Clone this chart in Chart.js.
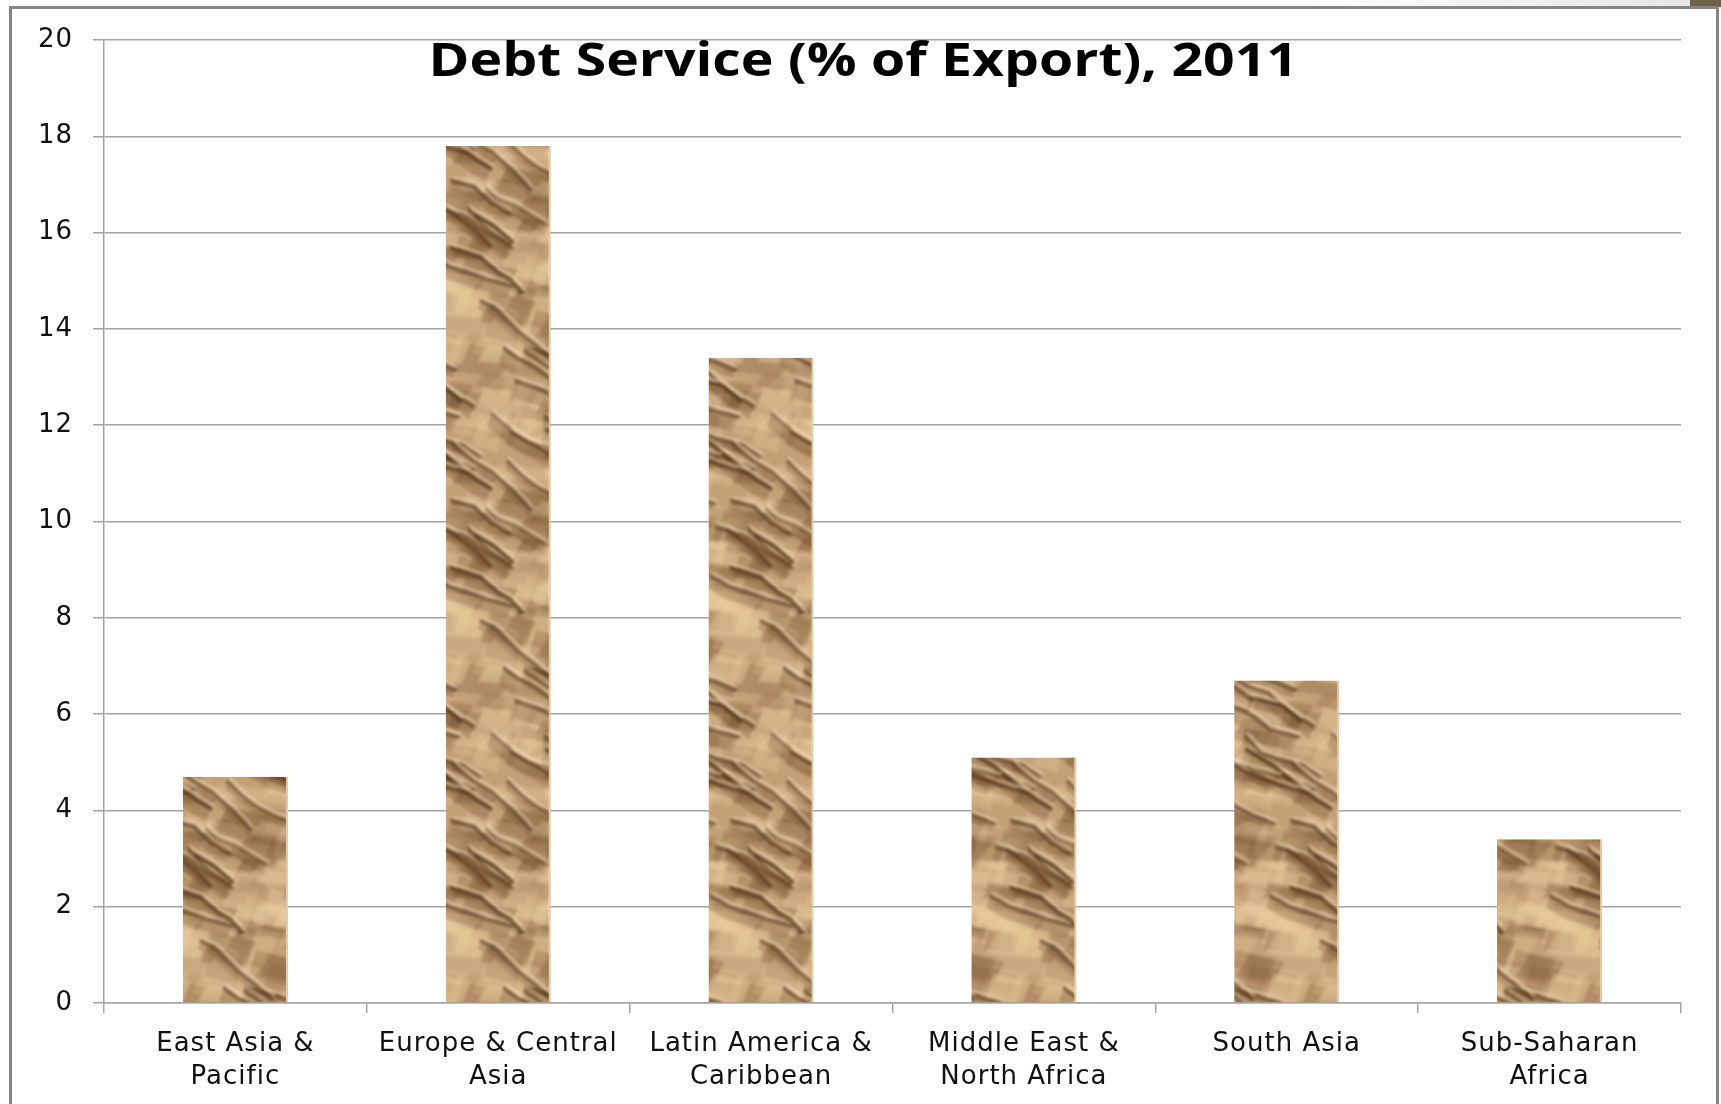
<!DOCTYPE html>
<html>
<head>
<meta charset="utf-8">
<script src="https://cdn.jsdelivr.net/npm/chart.js@4.4.1/dist/chart.umd.min.js"></script>
<style>
  html, body { margin: 0; padding: 0; background: #fff; overflow: hidden; }
  #strip { position: absolute; left: 0; top: 0; width: 1721px; height: 8px;
           background: linear-gradient(to right, #fff 0%, #fff 75%, #e4e4e4 100%); }
  #corner { position: absolute; left: 1690px; top: 0; width: 31px; height: 7px; background: #6e6148; }
  #frame { position: absolute; left: 9px; top: 6px; width: 1704px; height: 1110px;
           border: 3px solid #858585; border-bottom: none; background: #fff; }
  #wrap { position: absolute; left: 0; top: 0; width: 1721px; height: 1104px; }
  #title { position: absolute; left: 0; top: 35px; width: 1726px; text-align: center;
           font: bold 46px 'Open Sans'; line-height: 46px; color: #000; pointer-events: none; }
  #title span { display: inline-block; transform-origin: 50% 50%; white-space: nowrap; }
</style>
</head>
<body>
<div id="strip"></div>
<div id="corner"></div>
<div id="frame"></div>
<div id="wrap"><canvas id="debtChart"></canvas></div>
<div id="title"><span>Debt Service (% of Export), 2011</span></div>
<script>
  'use strict'

  const regions = [
    ['East Asia &', 'Pacific'],
    ['Europe & Central', 'Asia'],
    ['Latin America &', 'Caribbean'],
    ['Middle East &', 'North Africa'],
    ['South Asia'],
    ['Sub-Saharan', 'Africa']
  ];
  const debtService = [4.7, 17.8, 13.4, 5.1, 6.7, 3.4];
  const yMin = 0, yMax = 20, yStep = 2;

  // the reference title is set wide; stretch ours to the same width
  const titleSpan = document.querySelector('#title span');
  titleSpan.style.transform = 'scaleX(' + (870 / titleSpan.offsetWidth) + ')';

  // crumpled brown paper fill for the bars (seamless tile)
  function paperPattern() {
    const w = 140, h = 320;
    const raw = document.createElement('canvas');
    raw.width = w; raw.height = h;
    const g = raw.getContext('2d');
    let seed = 41;
    const rnd = () => { seed = (seed * 16807) % 2147483647; return seed / 2147483647; };
    const tiled = fn => {
      for (const dx of [-w, 0, w]) {
        for (const dy of [-h, 0, h]) {
          g.save(); g.translate(dx, dy); fn(); g.restore();
        }
      }
    };
    const poly = pts => {
      g.beginPath();
      g.moveTo(pts[0][0], pts[0][1]);
      for (let j = 1; j < pts.length; j++) g.lineTo(pts[j][0], pts[j][1]);
    };

    g.fillStyle = '#c4a077';
    g.fillRect(0, 0, w, h);

    // broad facets, light and shaded
    for (let i = 0; i < 110; i++) {
      const x = rnd() * w, y = rnd() * h;
      const fw = 22 + rnd() * 40, fh = 14 + rnd() * 26;
      const k = rnd();
      const col = k < 0.35 ? 'rgba(118,82,46,' + (0.15 + rnd() * 0.2) + ')'
                : 'rgba(234,204,160,' + (0.2 + rnd() * 0.3) + ')';
      const pts = [[x, y], [x + fw, y + fh * 0.3], [x + fw * 0.75, y + fh], [x - fw * 0.2, y + fh * 0.8]];
      tiled(() => { g.fillStyle = col; poly(pts); g.closePath(); g.fill(); });
    }

    // creases running down to the right, each with a shadow below and a lit edge above
    g.lineCap = 'round';
    g.lineJoin = 'round';
    for (let i = 0; i < 22; i++) {
      const pts = [[rnd() * w, rnd() * h]];
      const segs = 2 + Math.floor(rnd() * 3);
      for (let j = 0; j < segs; j++) {
        const ang = 0.25 + rnd() * 0.6, len = 14 + rnd() * 20;
        const p = pts[pts.length - 1];
        pts.push([p[0] + len * Math.cos(ang), p[1] + len * Math.sin(ang)]);
      }
      const depth = 6 + rnd() * 10;
      const shade = pts.concat(pts.slice().reverse().map(p => [p[0] - depth * 0.4, p[1] + depth]));
      const dark = 'rgba(78,48,22,' + (0.5 + rnd() * 0.3) + ')';
      const lw = 2 + rnd() * 2.5;
      tiled(() => {
        g.fillStyle = 'rgba(110,74,40,0.28)';
        poly(shade); g.closePath(); g.fill();
        g.strokeStyle = dark;
        g.lineWidth = lw;
        poly(pts); g.stroke();
        g.strokeStyle = 'rgba(248,226,192,0.65)';
        g.lineWidth = 2;
        poly(pts.map(p => [p[0] + 2, p[1] - 3.5])); g.stroke();
      });
    }

    // soften, sampling across the tile edges so it stays seamless
    const big = document.createElement('canvas');
    big.width = w * 3; big.height = h * 3;
    const b = big.getContext('2d');
    for (let i = 0; i < 3; i++) for (let j = 0; j < 3; j++) b.drawImage(raw, i * w, j * h);
    const soft = document.createElement('canvas');
    soft.width = w; soft.height = h;
    const s = soft.getContext('2d');
    s.filter = 'blur(1.5px)';
    s.drawImage(big, -w, -h);
    return s.createPattern(soft, 'repeat');
  }

  // wider lettering, like the reference's tick labels
  const spacing = {
    id: 'spacing',
    beforeLayout(chart) { chart.ctx.letterSpacing = '1px'; },
    beforeDraw(chart) { chart.ctx.letterSpacing = '1px'; }
  };

  const gridGrey = '#a3a3a3';
  const ctx = document.getElementById('debtChart');

  new Chart(ctx, {
    type: 'bar',
    data: {
      labels: regions,
      datasets: [{
        label: 'Debt Service (% of Export)',
        data: debtService,
        backgroundColor: paperPattern(),
        borderColor: '#e6c8a4',
        borderWidth: { right: 2, left: 0, top: 0, bottom: 0 },
        borderSkipped: false,
        categoryPercentage: 1,
        barPercentage: 0.4
      }]
    },
    plugins: [spacing],
    options: {
      responsive: true,
      maintainAspectRatio: false,
      animation: false,
      layout: { padding: { top: 40, right: 40, left: 0, bottom: 0 } },
      plugins: {
        legend: { display: false },
        tooltip: { enabled: false },
        title: { display: false }
      },
      scales: {
        x: {
          grid: { display: true, drawOnChartArea: false, offset: true, color: gridGrey, lineWidth: 1.5, tickLength: 10 },
          border: { color: gridGrey, width: 1.5 },
          ticks: {
            font: { family: 'DejaVu Sans', size: 26, lineHeight: 1.3 },
            color: '#111',
            padding: 14,
            maxRotation: 0,
            autoSkip: false
          },
          afterFit(scale) { scale.height = 101; }
        },
        y: {
          min: yMin,
          max: yMax,
          ticks: {
            stepSize: yStep,
            font: { family: 'DejaVu Sans', size: 26 },
            color: '#111',
            padding: 20
          },
          grid: { color: gridGrey, lineWidth: 1.5, tickLength: 11 },
          border: { color: gridGrey, width: 1.5 },
          afterFit(scale) { scale.width = 104; }
        }
      }
    }
  });
</script>
</body>
</html>
